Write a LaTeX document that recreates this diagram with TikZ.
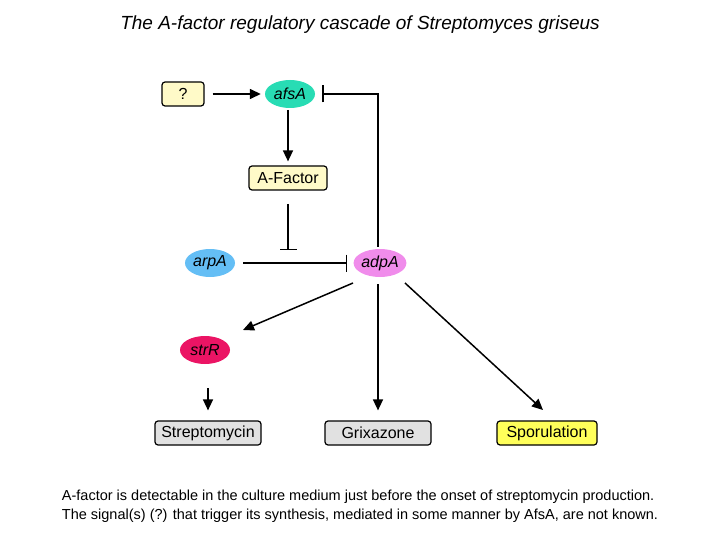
\documentclass[tikz,border=0pt]{standalone}
\usepackage{fontspec}
\setmainfont{Liberation Sans}
\usetikzlibrary{arrows.meta, shapes.geometric}

\definecolor{boxyellow}{RGB}{255,250,200}
\definecolor{spoyellow}{RGB}{255,255,90}
\definecolor{boxgrey}{RGB}{225,225,225}
\definecolor{afsgreen}{RGB}{40,220,180}
\definecolor{arpblue}{RGB}{100,190,245}
\definecolor{adppink}{RGB}{240,140,235}
\definecolor{strred}{RGB}{235,20,100}

\tikzset{
  gene/.style={ellipse, draw=none, minimum width=50pt, minimum height=28pt,
    inner sep=0pt, font=\fontsize{16}{16}\selectfont\itshape},
  product/.style={draw, line width=1.2pt, rounded corners=3pt, minimum height=24pt,
    inner sep=2pt, font=\fontsize{16}{16}\selectfont},
  act/.style={line width=1.5pt, -{Triangle[length=11pt, width=10pt]}},
  inhib/.style={line width=1.5pt, -{Bar[width=17pt]}}
}

\begin{document}
\begin{tikzpicture}[x=1pt, y=-1pt]
    \useasboundingbox (0,0) rectangle (720,540);

    % Title
    \node[font=\fontsize{19}{19}\selectfont\itshape] (title) at (360,25)
      {The A-factor regulatory cascade of Streptomyces griseus};

    % Upper part: signal and A-factor synthesis
    \node[product, fill=boxyellow, minimum width=42pt] (sig) at (183,94) {?};
    \node[gene, fill=afsgreen] (afsA) at (290,94) {afsA};
    \node[product, fill=boxyellow, minimum width=78pt] (afac) at (288,178) {A-Factor};

    % Middle part: receptor and activator
    \node[gene, fill=arpblue] (arpA) at (210,263) {arpA};
    \node[gene, fill=adppink] (adpA) at (380,263) {adpA};
    \node[gene, fill=strred] (strR) at (205,350) {strR};

    % Lower part: outputs
    \node[product, fill=boxgrey, minimum width=106pt] (strep) at (208,433) {Streptomycin};
    \node[product, fill=boxgrey, minimum width=106pt] (grix) at (378,433) {Grixazone};
    \node[product, fill=spoyellow, minimum width=100pt] (spor) at (547,433) {Sporulation};

    \coordinate (afsbar) at (322,94);
    \coordinate (arpbar) at (288,250);
    \coordinate (corner) at (378,94);
    \coordinate (toA) at (288,110);
    \coordinate (fromA) at (288,204);
    \coordinate (toG) at (378,284);
    \coordinate (toS) at (208,388);

    % Connections
    \draw[act] ([xshift=8pt]sig.east) -- ([xshift=-4pt]afsA.west);
    \draw[act] (toA) -- ([yshift=4pt]afac.north);
    \draw[inhib] (fromA) -- (arpbar);
    \draw[inhib] ([xshift=8pt]arpA.east) -- ([xshift=-6pt]adpA.west);
    \draw[inhib] ([yshift=2pt]adpA.north -| corner) -- (corner) -- (afsbar);
    \draw[act] (353,283) -- (243,330);
    \draw[act] (toG) -- ([yshift=10pt]grix.north);
    \draw[act] (405,283) -- (543,410);
    \draw[act] (toS) -- ([yshift=10pt]strep.north);

    % Caption
    \node[font=\fontsize{14.5}{19}\selectfont, align=left] (note) at (360,506)
      {A-factor is detectable in the culture medium just before the onset of streptomycin production.\\
       The signal(s) (?) that trigger its synthesis, mediated in some manner by AfsA, are not known.};

\end{tikzpicture}
\end{document}
